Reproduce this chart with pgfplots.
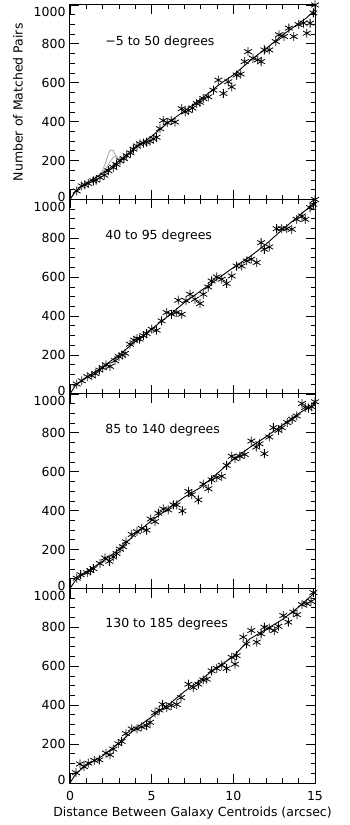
\documentclass[border=0pt]{standalone}
\usepackage{fontspec}
\setmainfont{DejaVu Sans}
\usepackage{pgfplots}
\pgfplotsset{compat=1.18}

\newcommand{\lblfont}{\fontsize{12.5}{14}\selectfont}

\pgfplotsset{
  panel/.style={
    scale only axis, width=245pt, height=194.5pt,
    anchor=south west,
    xmin=0, xmax=15, ymin=0, ymax=1000,
    xtick={0,5,10,15}, minor x tick num=4,
    ytick={0,200,...,1000}, minor y tick num=3,
    tick align=inside,
    major tick length=9pt, minor tick length=4.5pt,
    every tick/.style={black, line width=0.9pt},
    axis line style={line width=1pt},
    clip=false,
    yticklabels={\raisebox{3pt}[\height][\depth]{0},200,400,600,800,\raisebox{-7pt}[\height][\depth]{1000}},
    tick label style={font=\lblfont},
    yticklabel style={xshift=-1pt},
    xticklabel style={yshift=-5pt},
    xticklabels={},
  },
  pts/.style={only marks, mark=asterisk, mark size=4.5pt, black, mark options={line width=0.8pt}},
  fit/.style={black, line width=0.9pt, no marks},
}

\begin{document}
\begin{tikzpicture}
\path[use as bounding box] (-70pt,-42pt) rectangle (280pt,783pt);

% panel 1
\begin{axis}[panel, at={(0,583.5pt)}]
\addplot[gray!70, line width=0.8pt, no marks] coordinates {
  (0,0)(0.5,55)(1,82)(1.5,108)(1.8,125)(2.0,150)(2.2,195)(2.4,245)(2.5,255)(2.65,252)(2.8,225)(3.0,200)(3.2,212)};
\addplot[gray!70, line width=0.8pt, no marks] coordinates {
  (0,0)(0.5,55)(1,84)(1.5,110)(1.9,130)(2.2,160)(2.5,200)(2.7,220)(2.85,222)(3.0,205)(3.2,212)};
\addplot[fit] coordinates {
  (0,0)(0.3,40)(0.6,62)(1,85)(1.5,108)(2,135)(2.5,165)(3,198)(3.5,232)(4,265)(4.5,295)(5,325)(5.5,360)(6,395)(6.5,425)(7,455)(7.5,485)(8,515)(8.5,548)(9,582)(9.5,612)(10,640)(10.5,675)(11,712)(11.5,745)(12,775)(12.5,810)(13,845)(13.5,875)(14,905)(14.5,935)(15,975)};
\addplot[pts] coordinates {
  (0.41,44)(0.72,70)(0.9,75)(1.12,82)(1.43,96)(1.6,100)(1.84,113)(2.1,125)(2.35,148)(2.65,165)(2.85,180)(3.06,199)(3.3,210)(3.47,225)(3.7,240)(3.88,259)(4.1,275)(4.29,286)(4.5,290)(4.69,295)(4.9,300)(5.1,312)(5.3,320)(5.51,364)(5.71,406)(5.95,395)(6.2,406)(6.43,398)(6.84,467)(7.05,450)(7.24,458)(7.5,470)(7.76,493)(7.95,500)(8.16,519)(8.47,528)(8.78,562)(9.08,614)(9.39,545)(9.69,605)(9.9,579)(10.2,640)(10.45,645)(10.7,709)(10.9,760)(11.2,726)(11.5,718)(11.7,709)(11.9,769)(12.2,769)(12.6,812)(12.8,847)(13.1,838)(13.4,881)(13.7,838)(14.0,899)(14.3,907)(14.5,855)(14.7,907)(14.9,959)(15.0,1000)};
\node[anchor=west, font=\lblfont] at (axis cs:1.95,810) {−5 to 50 degrees};
\end{axis}

% panel 2
\begin{axis}[panel, at={(0,389pt)}]
\addplot[fit] coordinates {
  (0,0)(0.3,40)(0.6,62)(1,85)(2,140)(3,200)(4,270)(5,335)(6,400)(7,470)(8,530)(9,590)(10,650)(11,705)(12,770)(13,845)(14,915)(15,985)};
\addplot[pts] coordinates {
  (0.41,51)(0.72,68)(1.06,89)(1.33,94)(1.55,105)(1.8,123)(2.0,135)(2.2,150)(2.45,142)(2.76,171)(3.0,192)(3.2,200)(3.37,209)(3.67,256)(3.92,277)(4.1,285)(4.25,282)(4.5,300)(4.69,311)(5.0,333)(5.3,328)(5.61,376)(5.92,419)(6.22,410)(6.53,419)(6.63,482)(6.84,410)(7.1,480)(7.35,513)(7.65,487)(7.96,465)(8.16,513)(8.47,550)(8.67,581)(8.98,602)(9.29,590)(9.59,568)(9.9,607)(10.2,658)(10.51,658)(10.82,684)(11.1,693)(11.43,676)(11.7,778)(11.9,744)(12.2,756)(12.65,850)(12.96,850)(13.27,850)(13.58,847)(13.88,898)(14.2,915)(14.4,898)(14.7,958)(14.9,975)(15,1000)};
\node[anchor=west, font=\lblfont] at (axis cs:1.95,810) {40 to 95 degrees};
\end{axis}

% panel 3
\begin{axis}[panel, at={(0,194.5pt)}]
\addplot[fit] coordinates {
  (0,0)(0.3,38)(0.6,62)(1,85)(2,140)(3,200)(4,280)(5,350)(6,410)(7,470)(8,520)(9,590)(10,665)(11,725)(12,780)(13,840)(14,900)(15,950)};
\addplot[pts] coordinates {
  (0.41,53)(0.65,71)(1.06,81)(1.25,92)(1.43,102)(1.84,128)(2.14,157)(2.41,140)(2.65,162)(2.85,180)(3.06,202)(3.25,215)(3.43,240)(3.78,278)(4.1,292)(4.39,309)(4.69,300)(4.94,357)(5.2,344)(5.41,387)(5.71,409)(6.02,404)(6.33,430)(6.53,430)(6.88,399)(7.25,499)(7.45,482)(7.86,456)(8.16,537)(8.47,513)(8.67,559)(8.98,571)(9.29,577)(9.59,633)(9.9,680)(10.1,668)(10.4,680)(10.7,689)(11.1,758)(11.4,727)(11.6,744)(11.9,693)(12.2,779)(12.45,827)(12.76,813)(12.96,827)(13.3,853)(13.6,870)(13.88,887)(14.2,951)(14.4,931)(14.6,928)(14.8,934)(15,960)};
\node[anchor=west, font=\lblfont] at (axis cs:1.95,815) {85 to 140 degrees};
\end{axis}

% panel 4
\begin{axis}[panel, at={(0,0)}, xticklabels={0,5,10,15}]
\addplot[fit] coordinates {
  (0,0)(0.3,40)(0.6,65)(1,90)(2,140)(3,205)(4,280)(5,340)(6,400)(7,470)(8,530)(9,595)(10,650)(11,740)(12,790)(13,840)(14,905)(15,980)};
\addplot[pts] coordinates {
  (0.37,53)(0.61,98)(0.86,84)(1.12,102)(1.49,116)(1.8,119)(2.2,154)(2.45,145)(2.65,174)(2.96,202)(3.16,214)(3.43,254)(3.78,278)(4.1,278)(4.39,288)(4.69,295)(4.9,312)(5.2,361)(5.47,375)(5.67,404)(5.92,387)(6.2,399)(6.53,404)(6.8,439)(7.25,508)(7.55,491)(7.86,508)(8.16,530)(8.37,534)(8.67,577)(8.98,589)(9.29,606)(9.59,589)(9.9,646)(10.1,611)(10.2,655)(10.61,750)(10.8,715)(11.1,784)(11.43,724)(11.7,767)(11.9,801)(12.2,796)(12.5,784)(12.76,806)(13.06,861)(13.37,827)(13.67,879)(13.9,865)(14.2,917)(14.5,922)(14.76,934)(14.9,979)};
\node[anchor=west, font=\lblfont] at (axis cs:1.95,815) {130 to 185 degrees};
\end{axis}

\node[rotate=90, font=\lblfont] at (-52pt,680.75pt) {Number of Matched Pairs};
\node[font=\lblfont] at (122.5pt,-30pt) {Distance Between Galaxy Centroids (arcsec)};
\end{tikzpicture}
\end{document}
